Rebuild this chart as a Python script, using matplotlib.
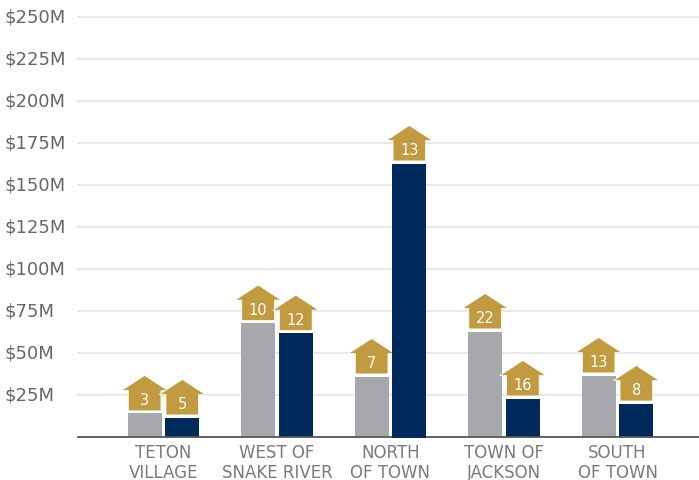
import matplotlib
matplotlib.use('Agg')
import matplotlib.pyplot as plt
from matplotlib.patches import Polygon
from matplotlib.transforms import Affine2D

areas = ['TETON\nVILLAGE', 'WEST OF\nSNAKE RIVER', 'NORTH\nOF TOWN', 'TOWN OF\nJACKSON', 'SOUTH\nOF TOWN']
gray_vals = [13.7, 67.5, 35.7, 62.5, 36.3]
navy_vals = [11.3, 61.5, 162.5, 22.6, 19.6]
gray_counts = [3, 10, 7, 22, 13]
navy_counts = [5, 12, 13, 16, 8]
y_ticks = [25, 50, 75, 100, 125, 150, 175, 200, 225, 250]

GOLD = '#c29b40'
GRAY = '#a7a8ac'
NAVY = '#002a5c'
TEXT = '#666666'

W, H = 699, 481
plt.rcParams['font.family'] = ['DejaVu Sans']

fig = plt.figure(figsize=(W / 100, H / 100), dpi=100)
ax = fig.add_axes([78 / W, (H - 437.5) / H, (W - 78) / W, 420 / H])
ax.set_xlim(-0.753, 4.718)
ax.set_ylim(0, 250)

for s in ['top', 'left', 'right']:
    ax.spines[s].set_visible(False)
ax.spines['bottom'].set_color('#555555')
ax.spines['bottom'].set_linewidth(1.3)
ax.spines['bottom'].set_zorder(6)

ax.set_yticks(y_ticks)
ax.set_yticklabels([])
ax.tick_params(axis='both', length=0)
ax.grid(axis='y', color='#e6e6e6', linewidth=1.3, clip_on=False)
ax.set_axisbelow(True)

xpos = list(range(len(areas)))
ax.set_xticks(xpos)
ax.set_xticklabels(areas, fontsize=12, color='#7a7a7a', linespacing=1.09)
ax.tick_params(axis='x', pad=5)

# dollar labels sit at the left edge of the figure
for v in y_ticks:
    fig.text(5 / W, ax.transData.transform((0, v))[1] / H, '$%dM' % v, fontsize=13,
             color=TEXT, va='center', ha='left')


def house(x, top, count, z):
    # house shape above a bar, sizes in pixels
    px, py = ax.transData.transform((x, top))
    shape = [(-16.3, 2.6), (16.3, 2.6), (16.3, 23), (23, 23), (0, 38), (-23, 23), (-16.3, 23)]
    ax.add_patch(Polygon(shape, closed=True, facecolor=GOLD, edgecolor='white', linewidth=0.5,
                         zorder=z, clip_on=False, transform=Affine2D().translate(px, py)))
    ax.text(px, py + 14, str(count), color='white', fontsize=10.5, ha='center', va='center',
            zorder=z, transform=Affine2D())


offset = 0.166
width = 0.2996

# gray bars and their houses go under the navy ones
ax.bar([x - offset for x in xpos], gray_vals, width, color=GRAY, zorder=2)
for i in xpos:
    house(i - offset, gray_vals[i], gray_counts[i], 3)

navy_bars = ax.bar([x + offset for x in xpos], navy_vals, width, color=NAVY, zorder=4)
for i in xpos:
    house(i + offset, navy_vals[i], navy_counts[i], 5)

# tallest bar runs over the axis line
tall = navy_bars[2]
tall.set_y(-1.0)
tall.set_height(navy_vals[2] + 1.0)
tall.set_zorder(7)
tall.set_clip_on(False)

fig.savefig('out.png', dpi=100)
